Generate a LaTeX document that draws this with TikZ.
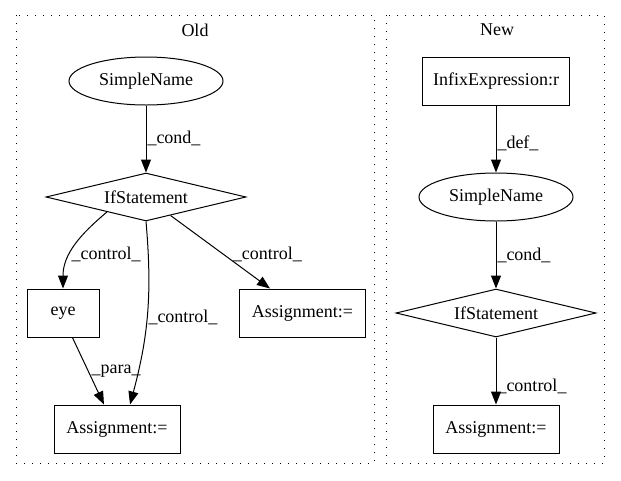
\documentclass[tikz,border=0pt]{standalone}
\usepackage{fontspec}
\setmainfont{Liberation Serif}
\usetikzlibrary{arrows.meta}
\usetikzlibrary{positioning}
\usetikzlibrary{shapes.geometric}
\tikzset {
  ast node/.style = {
    draw = black,
    line width = 1pt,
    inner sep = 0,
    font = \fontsize{18}{21}\selectfont
  },
  % statement
  stmt/.style = {
    ast node,
    diamond,
    shape aspect = 4.2,
    minimum width = 200pt,
    minimum height = 48pt
  },
  % expression or assignment
  expr/.style = {
    ast node,
    rectangle,
    minimum width = 126pt,
    minimum height = 48pt
  },
  % identifier
  ident/.style = {
    ast node,
    ellipse,
    minimum width = 154pt,
    minimum height = 48pt
  },
  node distance = 67pt
}
\tikzset {
  % dependency edge
  dep/.style = {
    -{Triangle[length = 13pt, width = 10pt]},
    line width = 1pt
  },
  dep label/.style = {
    right,
    inner sep = 1pt,
    font = \fontsize{18}{21}\selectfont
  },
  % subgraph frame
  cluster/.style = {
    line width = 1pt,
    dash pattern = on 1pt off 7pt
  },
  cluster title/.style = {
    font = \fontsize{18}{21}\selectfont
  }
}
\begin{document}
\begin{tikzpicture}[x = 1pt, y = 1pt]
    \useasboundingbox (0,0) rectangle (621,-480);

    % old version
    \draw[cluster] (16,-15) rectangle (374,-463);
    \node[cluster title] (old) at (195,-30) {Old};

    \node[ident] (sn-old) at (146,-81) {SimpleName};
    \node[stmt] (if-old) [below=of sn-old] {IfStatement};
    \node[expr, minimum width = 72pt] (eye) at (63,-313) {eye};
    \node[expr] (asg-right) at (302.5,-313) {Assignment:=};
    \node[expr] (asg-bottom) at (117,-429) {Assignment:=};

    \draw[dep] (sn-old)
      -- node[dep label, pos = 0.49] {\_cond\_} (if-old);

    \draw[dep] (if-old.201)
      to[out = 220, in = 90]
      node[dep label, pos = 0.62] {\_control\_} (eye.north);

    \draw[dep] (if-old.south)
      to[out = -85, in = 75]
      node[dep label, pos = 0.52] {\_control\_} (asg-bottom.62);

    \draw[dep] (if-old.-37)
      -- node[dep label, pos = 0.53, right = 8pt] {\_control\_} (asg-right.143);

    \draw[dep] (eye.-69)
      -- node[dep label, right = 2pt] {\_para\_} (asg-bottom.118);

    % new version
    \draw[cluster] (386,-15) rectangle (604,-463);
    \node[cluster title] (new) at (497,-30) {New};

    \node[expr, minimum width = 147pt] (infix) at (496,-81) {InfixExpression:r};
    \node[ident] (sn-new) [below=of infix] {SimpleName};
    \node[stmt] (if-new) [below=of sn-new] {IfStatement};
    \node[expr] (asg-new) [below=of if-new] {Assignment:=};

    \draw[dep] (infix)
      -- node[dep label, pos = 0.56] {\_def\_} (sn-new);
    \draw[dep] (sn-new)
      -- node[dep label, pos = 0.5] {\_cond\_} (if-new);
    \draw[dep] (if-new)
      -- node[dep label, pos = 0.73] {\_control\_} (asg-new);
\end{tikzpicture}
\end{document}
